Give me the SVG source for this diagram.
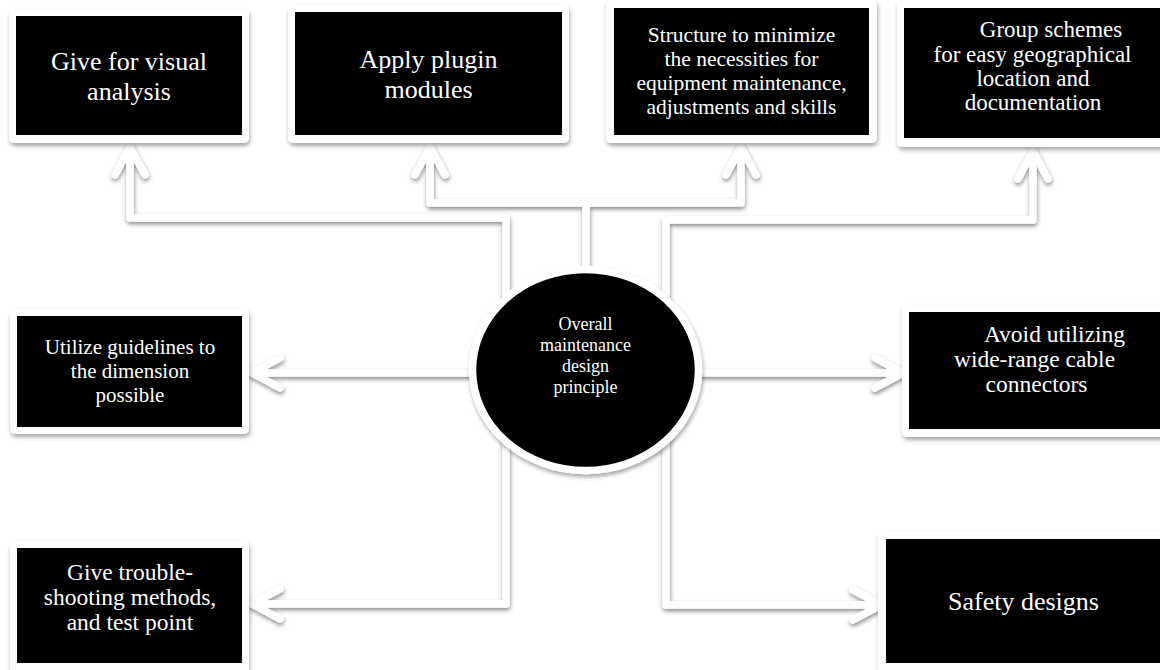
<svg xmlns="http://www.w3.org/2000/svg" width="1160" height="670" viewBox="0 0 1160 670">
<style>
.frame{fill:#fff;filter:url(#sh)}
.body{fill:#000}
text{font-family:'Liberation Serif',serif;fill:#fff;text-anchor:middle}
.conn{fill:none;stroke:#fff;stroke-width:7.5;stroke-linecap:round;stroke-linejoin:round}
</style>
<defs>
<filter id="sh" x="-10%" y="-10%" width="120%" height="130%">
<feDropShadow dx="1" dy="3" stdDeviation="2" flood-color="#000" flood-opacity="0.35"/>
</filter>
<filter id="lsh" x="-10%" y="-10%" width="120%" height="130%">
<feDropShadow dx="0.5" dy="2.5" stdDeviation="2" flood-color="#000" flood-opacity="0.45"/>
</filter>
<marker id="arr" markerUnits="userSpaceOnUse" orient="auto" refX="0" refY="0" markerWidth="40" markerHeight="40" overflow="visible">
<path d="M-28,-15 L0,0 L-28,15" fill="none" stroke="#fff" stroke-width="7.5" stroke-linecap="round" stroke-linejoin="round"/>
</marker>
</defs>
<rect width="1160" height="670" fill="#fff"/>
<g id="connectors" filter="url(#lsh)">
<path class="conn" d="M506,320 V218 H130 V147" marker-end="url(#arr)"/>
<path class="conn" d="M586,290 V203 H430 V147" marker-end="url(#arr)"/>
<path class="conn" d="M586,203 H741 V147" marker-end="url(#arr)"/>
<path class="conn" d="M666,320 V220 H1033 V151" marker-end="url(#arr)"/>
<path class="conn" d="M490,373 H252" marker-end="url(#arr)"/>
<path class="conn" d="M680,373 H903" marker-end="url(#arr)"/>
<path class="conn" d="M506,420 V604 H252" marker-end="url(#arr)"/>
<path class="conn" d="M666,420 V605 H881" marker-end="url(#arr)"/>
</g>
<g id="center">
<ellipse cx="585.5" cy="370" rx="113" ry="100.5" fill="#000" stroke="#fff" stroke-width="7.5" filter="url(#sh)"/>
<text font-family="Liberation Serif, serif" font-size="18"><tspan x="585.5" y="330">Overall</tspan><tspan x="585.5" y="351">maintenance</tspan><tspan x="585.5" y="372">design</tspan><tspan x="585.5" y="393">principle</tspan></text>
</g>
<g id="n1">
<rect class="frame" x="9" y="9" width="240" height="134" rx="5"/>
<rect class="body" x="16" y="16" width="226" height="119"/>
<text font-family="Liberation Serif, serif" font-size="26"><tspan x="129" y="70">Give for visual</tspan><tspan x="129" y="100">analysis</tspan></text>
</g>
<g id="n2">
<rect class="frame" x="288" y="5" width="281" height="138" rx="5"/>
<rect class="body" x="295" y="12" width="267" height="123"/>
<text font-family="Liberation Serif, serif" font-size="26"><tspan x="428.5" y="68">Apply plugin</tspan><tspan x="428.5" y="98">modules</tspan></text>
</g>
<g id="n3">
<rect class="frame" x="606" y="0" width="271" height="143" rx="5"/>
<rect class="body" x="614" y="8" width="255" height="127"/>
<text font-family="Liberation Serif, serif" font-size="21.5"><tspan x="741.5" y="42">Structure to minimize</tspan><tspan x="741.5" y="66">the necessities for</tspan><tspan x="741.5" y="90">equipment maintenance,</tspan><tspan x="741.5" y="114">adjustments and skills</tspan></text>
</g>
<g id="n4">
<rect class="frame" x="897" y="0" width="275" height="147" rx="5"/>
<rect class="body" x="904" y="8" width="262" height="130"/>
<text font-family="Liberation Serif, serif" font-size="23"><tspan x="1051" y="37">Group schemes</tspan><tspan x="1032.5" y="62">for easy geographical</tspan><tspan x="1033" y="86">location and</tspan><tspan x="1033" y="110">documentation</tspan></text>
</g>
<g id="n5">
<rect class="frame" x="10" y="309" width="239" height="125" rx="5"/>
<rect class="body" x="17" y="316" width="225" height="111"/>
<text font-family="Liberation Serif, serif" font-size="21"><tspan x="130" y="354">Utilize guidelines to</tspan><tspan x="130" y="378">the dimension</tspan><tspan x="130" y="402">possible</tspan></text>
</g>
<g id="n6">
<rect class="frame" x="902" y="305" width="270" height="132" rx="5"/>
<rect class="body" x="909" y="312" width="262" height="117"/>
<text font-family="Liberation Serif, serif" font-size="23.5"><tspan x="1054.5" y="342">Avoid utilizing</tspan><tspan x="1034.5" y="367">wide-range cable</tspan><tspan x="1036.5" y="392">connectors</tspan></text>
</g>
<g id="n7">
<rect class="frame" x="10" y="541" width="239" height="135" rx="5"/>
<rect class="body" x="17" y="548" width="225" height="115"/>
<text font-family="Liberation Serif, serif" font-size="23.5"><tspan x="130" y="580">Give trouble-</tspan><tspan x="130" y="605">shooting methods,</tspan><tspan x="130" y="630">and test point</tspan></text>
</g>
<g id="n8">
<rect class="frame" x="878" y="531" width="294" height="145" rx="5"/>
<rect class="body" x="886" y="539" width="285" height="124"/>
<text font-family="Liberation Serif, serif" font-size="26"><tspan x="1023.5" y="610">Safety designs</tspan></text>
</g>
</svg>
